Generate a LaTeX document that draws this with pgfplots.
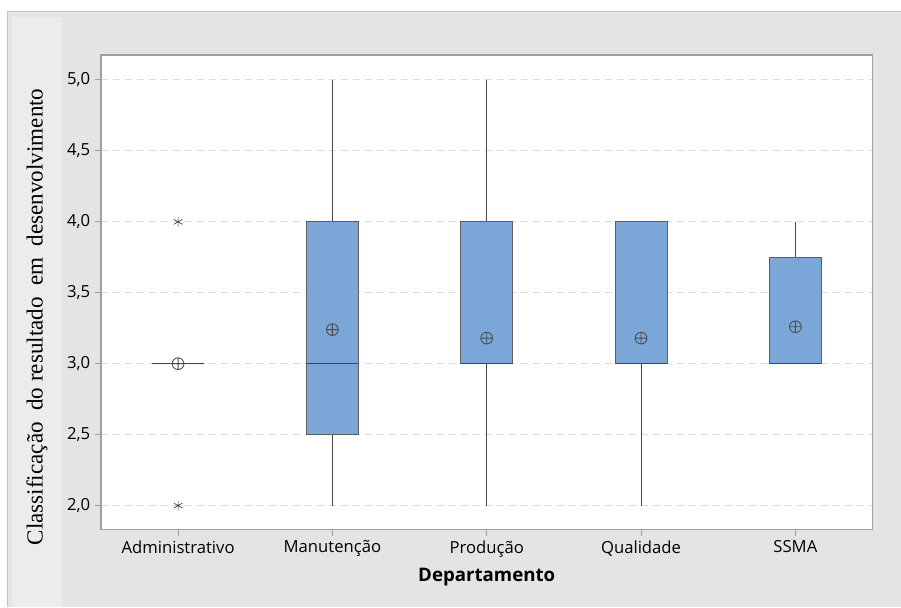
\documentclass[border=0pt]{standalone}
\usepackage{fontspec}
\setmainfont{Open Sans}
\newfontfamily\seriffont{Liberation Serif}
\usepackage{pgfplots}
\pgfplotsset{compat=1.18}
\usepgfplotslibrary{statistics}
\definecolor{boxfill}{RGB}{123,166,216}
\definecolor{boxedge}{RGB}{95,95,95}
\definecolor{bggray}{RGB}{228,228,228}
\definecolor{stripc}{RGB}{236,236,236}
\definecolor{framec}{RGB}{196,196,196}
\definecolor{gridc}{RGB}{218,218,218}
\definecolor{axisc}{RGB}{160,160,160}
\begin{document}
\begin{tikzpicture}
\fill[white] (0,0) rectangle (675.75pt,455.25pt);
\fill[bggray] (6pt,0) rectangle (675.75pt,446.25pt);
\draw[framec, line width=0.75pt] (6pt,0) -- (6pt,446.25pt) -- (675.75pt,446.25pt);
\fill[stripc] (9pt,0) rectangle (46.5pt,442.5pt);
\begin{axis}[
  at={(75.75pt,57.75pt)}, anchor=south west,
  scale only axis, width=579pt, height=356.25pt,
  xmin=-0.5, xmax=4.5, ymin=1.83, ymax=5.176,
  xtick={0,1,2,3,4},
  xticklabels={Administrativo,Manutenção,Produção,Qualidade,SSMA},
  ytick={2,2.5,3,3.5,4,4.5,5},
  yticklabel style={/pgf/number format/.cd, fixed, fixed zerofill, precision=1, use comma},
  /pgf/number format/assume math mode=true,
  tick pos=left, tick align=outside, major tick length=4.5pt,
  tick style={axisc, line width=0.75pt},
  axis line style={axisc, line width=0.9pt},
  ymajorgrids, grid style={gridc, dash pattern=on 5.5pt off 3.5pt, line width=0.75pt},
  axis background/.style={fill=white},
  ticklabel style={font=\fontsize{12.5}{14}\selectfont, text=black},
  boxplot/draw direction=y,
  boxplot/every whisker/.style={draw=black!72, line width=0.8pt},
  boxplot/every median/.style={draw=black!72, line width=0.8pt},
  clip=false,
]
\addplot[boxplot prepared={draw position=0, lower whisker=3, lower quartile=3, median=3, upper quartile=3, upper whisker=3, box extend=0.337, whisker extend=0}, draw=black!75, fill=boxfill, line width=0.8pt] coordinates {};
\addplot[boxplot prepared={draw position=1, lower whisker=2, lower quartile=2.5, median=3, upper quartile=4, upper whisker=5, box extend=0.337, whisker extend=0}, draw=boxedge, fill=boxfill, line width=0.8pt] coordinates {};
\addplot[boxplot prepared={draw position=2, lower whisker=2, lower quartile=3, median=3, upper quartile=4, upper whisker=5, box extend=0.337, whisker extend=0}, draw=boxedge, fill=boxfill, line width=0.8pt] coordinates {};
\addplot[boxplot prepared={draw position=3, lower whisker=2, lower quartile=3, median=3, upper quartile=4, upper whisker=4, box extend=0.337, whisker extend=0}, draw=boxedge, fill=boxfill, line width=0.8pt] coordinates {};
\addplot[boxplot prepared={draw position=4, lower whisker=3, lower quartile=3, median=3, upper quartile=3.75, upper whisker=4, box extend=0.337, whisker extend=0}, draw=boxedge, fill=boxfill, line width=0.8pt] coordinates {};
\addplot[only marks, mark=oplus, mark size=4.4pt, draw=black!70, mark options={fill=none, line width=0.65pt}] coordinates {(0,3) (1,3.24) (2,3.18) (3,3.18) (4,3.26)};
\addplot[only marks, mark=asterisk, mark size=3.8pt, draw=black!75, mark options={line width=0.5pt}] coordinates {(0,4) (0,2)};
\end{axis}
\node[font=\bfseries\fontsize{14}{16}\selectfont] at (365.25pt,22.5pt) {Departamento};
\node[rotate=90, font=\seriffont\fontsize{17.3}{19}\selectfont] at (27.75pt,217.5pt) {Classificação\ \ do resultado\ \ em\ \ desenvolvimento};
\end{tikzpicture}
\end{document}
